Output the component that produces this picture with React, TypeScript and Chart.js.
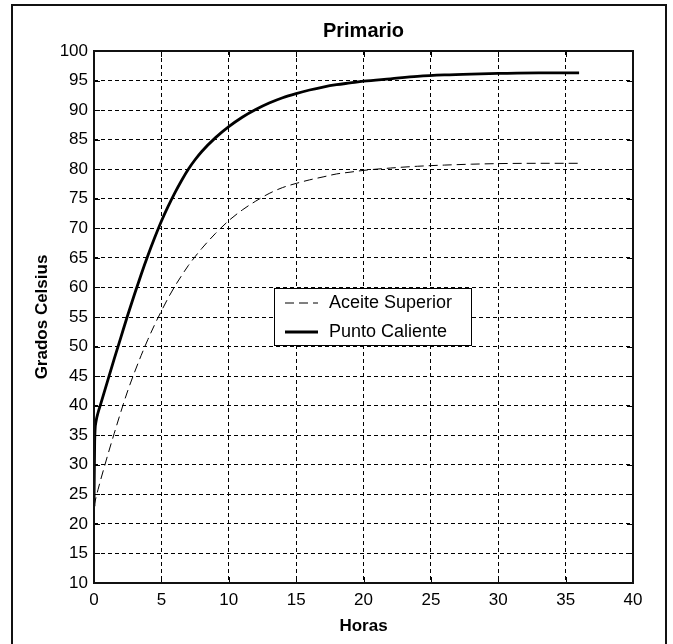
import React, { useEffect, useRef } from "react";
import { Chart, registerables } from "chart.js";

Chart.register(...registerables);

// ---- data ----
const hours = [
  0, 0.05, 0.15, 0.3, 0.5, 0.75, 1, 1.5, 2, 2.5, 3, 3.5, 4, 4.5, 5, 5.5, 6, 6.5, 7, 7.5, 8,
  9, 10, 11, 12, 13, 14, 15, 16, 17, 18, 19, 20, 22, 24, 26, 28, 30, 33, 36,
];
const aceiteSuperior = [
  23, 23.5, 24.5, 25.8, 27.5, 29.5, 31.5, 35.3, 39, 42.5, 45.6, 48.5, 51.2, 53.7, 56, 58.2,
  60.2, 62, 63.7, 65.2, 66.6, 69.1, 71.3, 73.1, 74.6, 75.9, 76.9, 77.6, 78.2, 78.7, 79.2, 79.5,
  79.8, 80.2, 80.5, 80.7, 80.85, 80.95, 81, 81,
];
const puntoCaliente = [
  23, 34, 37.3, 38.8, 40.3, 42.2, 44.1, 47.9, 51.6, 55.3, 58.8, 62.2, 65.4, 68.4, 71.2, 73.7,
  76, 78.1, 80, 81.6, 83, 85.3, 87.2, 88.8, 90.1, 91.2, 92.1, 92.8, 93.4, 93.9, 94.3, 94.6,
  94.9, 95.3, 95.7, 95.95, 96.1, 96.2, 96.3, 96.3,
];
const seriesLabels = ["Aceite Superior", "Punto Caliente"];
const xTickValues = [0, 5, 10, 15, 20, 25, 30, 35, 40];
const yTickValues = [10, 15, 20, 25, 30, 35, 40, 45, 50, 55, 60, 65, 70, 75, 80, 85, 90, 95, 100];
const chartTitle = "Primario";
const xTitle = "Horas";
const yTitle = "Grados Celsius";

// ---- style ----
const FONT = "'Liberation Sans', Arial, Helvetica, sans-serif";
const W = 673;
const H = 644;
const OIL_DASH = [9, 5];

const pagePlugin = {
  id: "pagePlugin",
  beforeDraw(chart: any) {
    const ctx = chart.ctx;
    ctx.save();
    ctx.fillStyle = "#ffffff";
    ctx.fillRect(0, 0, chart.width, chart.height);
    ctx.restore();
  },
  afterDraw(chart: any) {
    const ctx = chart.ctx;
    const { left, right, top, bottom } = chart.chartArea;
    const xs = chart.scales.x;
    const ys = chart.scales.y;
    ctx.save();
    ctx.setLineDash([]);
    // inner tick marks on all four sides
    ctx.strokeStyle = "#000";
    ctx.lineWidth = 1;
    const tl = 6;
    xs.ticks.forEach((t: any) => {
      const px = Math.round(xs.getPixelForValue(t.value)) + 0.5;
      ctx.beginPath();
      ctx.moveTo(px, bottom);
      ctx.lineTo(px, bottom - tl);
      ctx.moveTo(px, top);
      ctx.lineTo(px, top + tl);
      ctx.stroke();
    });
    ys.ticks.forEach((t: any) => {
      const py = Math.round(ys.getPixelForValue(t.value)) + 0.5;
      ctx.beginPath();
      ctx.moveTo(left, py);
      ctx.lineTo(left + tl, py);
      ctx.moveTo(right, py);
      ctx.lineTo(right - tl, py);
      ctx.stroke();
    });
    // axes box
    ctx.lineWidth = 2;
    ctx.strokeStyle = "#111";
    ctx.strokeRect(left, top, right - left, bottom - top);
    // outer frame
    ctx.lineWidth = 2;
    ctx.strokeStyle = "#111";
    ctx.strokeRect(12, 5, 654, 660);
    ctx.restore();
  },
};

const legendPlugin = {
  id: "boxLegend",
  afterDatasetsDraw(chart: any) {
    const ctx = chart.ctx;
    const bx = 274;
    const by = 288;
    const bw = 197;
    const bh = 57;
    ctx.save();
    ctx.fillStyle = "#fff";
    ctx.fillRect(bx, by, bw, bh);
    ctx.setLineDash([]);
    ctx.lineWidth = 1;
    ctx.strokeStyle = "#000";
    ctx.strokeRect(bx + 0.5, by + 0.5, bw, bh);
    const rows = [by + 15, by + 44];
    chart.data.datasets.forEach((ds: any, i: number) => {
      const y = rows[i];
      ctx.beginPath();
      ctx.setLineDash(ds.borderDash || []);
      ctx.lineWidth = ds.borderWidth;
      ctx.strokeStyle = ds.borderColor;
      ctx.moveTo(bx + 11, y);
      ctx.lineTo(bx + 44, y);
      ctx.stroke();
      ctx.setLineDash([]);
      ctx.fillStyle = "#000";
      ctx.font = `18px ${FONT}`;
      ctx.textBaseline = "middle";
      ctx.textAlign = "left";
      ctx.fillText(ds.label, bx + 55, y);
    });
    ctx.restore();
  },
};

export default function App() {
  const ref = useRef<HTMLCanvasElement | null>(null);

  useEffect(() => {
    const canvas = ref.current;
    if (!canvas) return;
    const chart = new Chart(canvas, {
      type: "line",
      data: {
        datasets: [
          {
            label: seriesLabels[0],
            data: hours.map((h, i) => ({ x: h, y: aceiteSuperior[i] })),
            borderColor: "#000",
            borderWidth: 1,
            borderDash: OIL_DASH,
            pointRadius: 0,
            fill: false,
            cubicInterpolationMode: "monotone",
          },
          {
            label: seriesLabels[1],
            data: hours.map((h, i) => ({ x: h, y: puntoCaliente[i] })),
            borderColor: "#000",
            borderWidth: 2.8,
            pointRadius: 0,
            fill: false,
            cubicInterpolationMode: "monotone",
          },
        ],
      },
      options: {
        responsive: false,
        animation: false,
        events: [],
        layout: { padding: { left: 20, right: 40, top: 0, bottom: 0 } },
        plugins: {
          legend: { display: false },
          tooltip: { enabled: false },
          title: {
            display: true,
            text: chartTitle,
            fullSize: false,
            color: "#000",
            font: { family: FONT, size: 20, weight: "bold" },
            padding: { top: 19, bottom: 8 },
          },
        },
        scales: {
          x: {
            type: "linear",
            min: 0,
            max: 40,
            afterBuildTicks: (s: any) => {
              s.ticks = xTickValues.map((v) => ({ value: v }));
            },
            afterFit: (s: any) => {
              s.height = 61;
            },
            ticks: {
              color: "#000",
              font: { family: FONT, size: 17 },
              padding: 7,
              maxRotation: 0,
              autoSkip: false,
              callback: (v: any) => String(v),
            },
            grid: { color: "#000", lineWidth: 1, drawTicks: false },
            border: { display: false, dash: [4, 3] },
            title: {
              display: true,
              text: xTitle,
              color: "#000",
              font: { family: FONT, size: 17, weight: "bold" },
              padding: { top: 0, bottom: 7 },
            },
          },
          y: {
            type: "linear",
            min: 10,
            max: 100,
            afterBuildTicks: (s: any) => {
              s.ticks = yTickValues.map((v) => ({ value: v }));
            },
            afterFit: (s: any) => {
              s.width = 74;
            },
            ticks: {
              color: "#000",
              font: { family: FONT, size: 17 },
              padding: 6,
              autoSkip: false,
              callback: (v: any) => String(v),
            },
            grid: { color: "#000", lineWidth: 1, drawTicks: false },
            border: { display: false, dash: [4, 3] },
            title: {
              display: true,
              text: yTitle,
              color: "#000",
              font: { family: FONT, size: 17, weight: "bold" },
              padding: { top: 12, bottom: 0 },
            },
          },
        },
      },
      plugins: [pagePlugin, legendPlugin],
    } as any);
    return () => chart.destroy();
  }, []);

  return (
    <div style={{ position: "absolute", left: 0, top: 0, width: W, height: H, background: "#fff" }}>
      <canvas ref={ref} width={W} height={H} style={{ display: "block", width: W, height: H }} />
    </div>
  );
}
